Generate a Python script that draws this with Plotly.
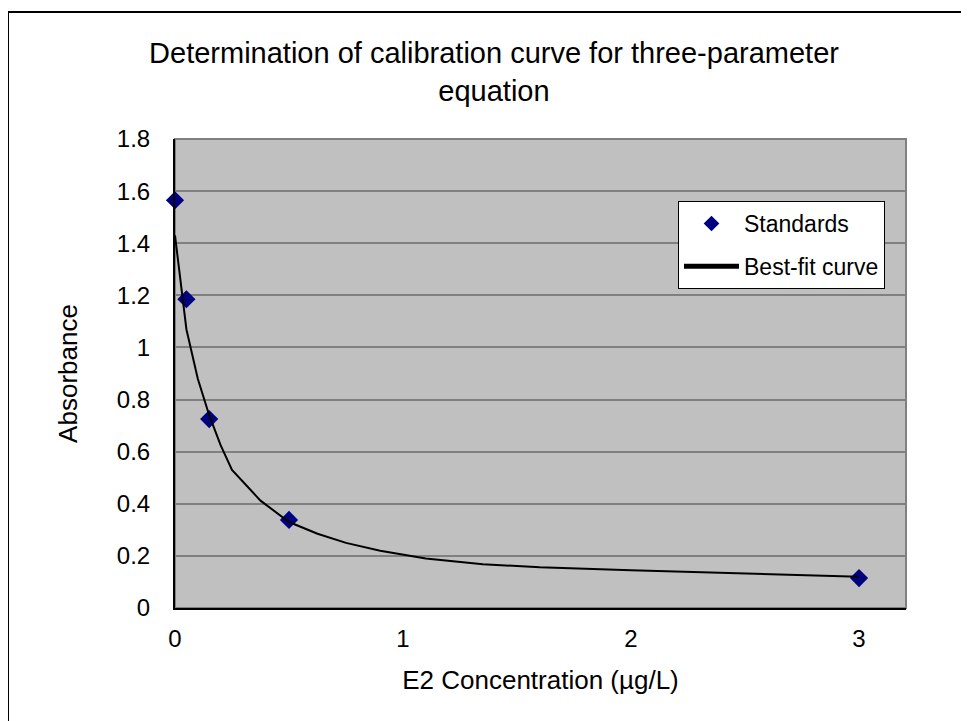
import plotly.graph_objects as go

# Standards (measured points)
std_conc = [0, 0.05, 0.15, 0.5, 3]
std_abs = [1.565, 1.185, 0.725, 0.338, 0.115]

# Best-fit curve
fit_conc = [0, 0.05, 0.1, 0.15, 0.2, 0.25, 0.375, 0.5, 0.625, 0.75, 0.9, 1.1, 1.35, 1.6, 2, 2.5, 3]
fit_abs = [1.43, 1.07, 0.88, 0.74, 0.625, 0.53, 0.412, 0.33, 0.285, 0.25, 0.22, 0.19,
           0.168, 0.156, 0.145, 0.132, 0.12]

x_ticks = [0, 1, 2, 3]
y_ticks = [0, 0.2, 0.4, 0.6, 0.8, 1.0, 1.2, 1.4, 1.6, 1.8]
y_tick_labels = ["0", "0.2", "0.4", "0.6", "0.8", "1", "1.2", "1.4", "1.6", "1.8"]

FONT = "Liberation Sans, Arial, sans-serif"
W, H = 961, 713  # page body has an 8px margin
L, R, T, B = 167, 63, 131, 113
PW, PH = W - L - R, H - T - B

fig = go.Figure()
fig.add_trace(go.Scatter(
    x=std_conc, y=std_abs, mode="markers", name="Standards",
    marker=dict(symbol="diamond", size=14, color="#000080"),
    legendgroup="a", cliponaxis=False,
))
fig.add_trace(go.Scatter(
    x=fit_conc, y=fit_abs, mode="lines", name="Best-fit curve",
    line=dict(color="black", width=2),
    legendgroup="b",
))

fig.update_layout(
    width=W, height=H,
    margin=dict(l=L, r=R, t=T, b=B),
    paper_bgcolor="white",
    plot_bgcolor="#C0C0C0",
    font=dict(family=FONT, size=24, color="black"),
    title=dict(
        text="Determination of calibration curve for three-parameter<br>equation",
        x=(494 - 8) / W, xref="container", xanchor="center",
        y=1 - 55 / H, yref="container", yanchor="top",
        font=dict(family=FONT, size=29, color="black"),
    ),
    xaxis=dict(
        range=[0, 3.206], tickvals=x_ticks, showgrid=False, zeroline=False,
        showline=True, linecolor="black", linewidth=2,
        ticks="outside", ticklen=8, tickcolor="rgba(0,0,0,0)",
        title=dict(text="E2 Concentration (µg/L)", font=dict(size=26), standoff=20),
    ),
    yaxis=dict(
        range=[0, 1.8], tickvals=y_ticks, ticktext=y_tick_labels,
        showgrid=True, gridcolor="#808080", gridwidth=1.5, zeroline=False,
        showline=True, linecolor="black", linewidth=2,
        ticks="outside", ticklen=18, tickcolor="rgba(0,0,0,0)",
        title=dict(text="Absorbance", font=dict(size=26), standoff=32),
    ),
    legend=dict(
        x=(678 - 175) / PW, y=(608 - 201) / PH, xanchor="left", yanchor="top",
        bgcolor="white", bordercolor="black", borderwidth=1,
        font=dict(family=FONT, size=23, color="black"),
        traceorder="grouped", tracegroupgap=10, itemwidth=55,
        itemsizing="constant",
    ),
    showlegend=True,
)

# gray border on top/right of plot area
fig.add_shape(type="rect", xref="paper", yref="paper", x0=0, y0=0, x1=1, y1=1,
              line=dict(color="#808080", width=2), layer="below")
# outer chart border
fig.add_shape(type="rect", xref="paper", yref="paper",
              x0=(0 - L) / PW, x1=1.3, y0=-0.5, y1=(PH + T - 4) / PH,
              line=dict(color="black", width=2))

fig.write_html("out.html")
